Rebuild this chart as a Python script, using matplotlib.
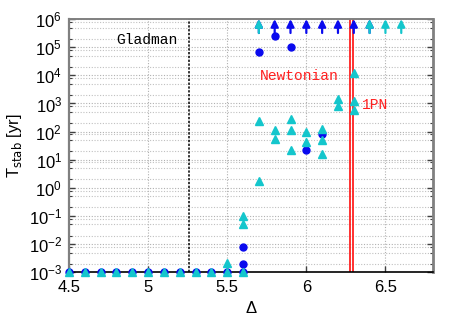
import matplotlib
matplotlib.use("Agg")
import matplotlib.pyplot as plt
from matplotlib.ticker import LogLocator, FixedLocator, FuncFormatter
import numpy as np

plt.rcParams['font.family'] = ['Liberation Sans', 'DejaVu Sans']

# ---- data ----
blue_x = [4.5, 4.6, 4.7, 4.8, 4.9, 5.0, 5.1, 5.2, 5.3, 5.4, 5.5, 5.6,
          5.6, 5.6, 5.7, 5.8, 5.9, 6.0, 6.1]
blue_y = [1e-3] * 12 + [2e-3, 8e-3, 6.5e4, 2.5e5, 1.05e5, 22, 81]
blue_arrow_x = [5.7, 5.8, 5.9, 6.0, 6.1, 6.2, 6.3, 6.4]

cyan_x = [4.5, 4.6, 4.7, 4.8, 4.9, 5.0, 5.1, 5.2, 5.3, 5.4, 5.5, 5.6,
          5.5, 5.6, 5.6, 5.7, 5.7, 5.8, 5.8, 5.9, 5.9, 5.9,
          6.0, 6.0, 6.1, 6.1, 6.1, 6.2, 6.2, 6.3, 6.3, 6.3]
cyan_y = [1e-3] * 12 + [2.1e-3, 0.05, 0.1, 1.8, 230, 110, 55, 270, 110, 23,
                        98, 41, 128, 49, 15.5, 1500, 810, 1.2e4, 1200, 575]
cyan_arrow_x = [5.7, 6.4, 6.5, 6.6]

arrow_top = 1e6
gladman_x = 5.26
newtonian_x = 6.278
pn_x = 6.292

xticks = [4.5, 5.0, 5.5, 6.0, 6.5]
yticks = [1e-3, 1e-2, 1e-1, 1e0, 1e1, 1e2, 1e3, 1e4, 1e5, 1e6]

blue = '#0a0aee'
cyan = '#14c6cc'
red = '#ff2020'

fig = plt.figure(figsize=(4.63, 3.24), dpi=100)
ax = fig.add_axes([0.149, 0.160, 0.786, 0.781])
ax.set_yscale('log')
ax.set_xlim(4.5, 6.8)
ax.set_ylim(1e-3, 1e6)

# grid
ax.xaxis.set_major_locator(FixedLocator(xticks))
ax.xaxis.set_major_formatter(FuncFormatter(lambda v, p: ('%g' % v)))
ax.yaxis.set_major_locator(FixedLocator(yticks))
ax.yaxis.set_minor_locator(LogLocator(base=10, subs=[2, 5, 8], numticks=20))
ax.grid(True, which='major', axis='both', color='#b0b0b0', linestyle=(0, (1, 1.5)), linewidth=0.8)
ax.grid(True, which='minor', axis='y', color='#c0c0c0', linestyle=(0, (1, 1.5)), linewidth=0.8)

# vertical lines
ax.axvline(gladman_x, color='black', linestyle=(0, (1.5, 1)), linewidth=1.1, zorder=2)
ax.axvline(newtonian_x, color=red, linewidth=1.3, zorder=2)
ax.axvline(pn_x, color=red, linewidth=1.3, zorder=2)

# points
ax.plot(blue_x, blue_y, 'o', color=blue, markersize=5, linestyle='none', clip_on=False, zorder=4)
ax.plot(cyan_x, cyan_y, '^', color=cyan, markersize=6, linestyle='none', clip_on=False, zorder=5)

# arrows (lower limits)
for xv in blue_arrow_x:
    ax.annotate('', xy=(xv, arrow_top), xytext=(0, -10), textcoords='offset points',
                arrowprops=dict(arrowstyle='-|>', color=blue, lw=1.6, mutation_scale=11,
                                shrinkA=0, shrinkB=0), annotation_clip=False, zorder=6)
for xv in cyan_arrow_x:
    ax.annotate('', xy=(xv, arrow_top), xytext=(0, -10), textcoords='offset points',
                arrowprops=dict(arrowstyle='-|>', color=cyan, lw=1.6, mutation_scale=11,
                                shrinkA=0, shrinkB=0), annotation_clip=False, zorder=7)

# text labels
ax.text(4.80, 10**5.25, 'Gladman', family='Liberation Mono', fontsize=10.5,
        color='black', va='center', ha='left')
ax.text(5.708, 10**3.97, 'Newtonian', family='Liberation Mono', fontsize=10.5,
        color=red, va='center', ha='left')
ax.text(6.349, 10**2.94, '1PN', family='Liberation Mono', fontsize=10.5,
        color=red, va='center', ha='left')

# spines & ticks
for s in ['left', 'top', 'right']:
    ax.spines[s].set_color('#808080')
ax.spines['left'].set_linewidth(1.6)
ax.spines['right'].set_linewidth(2.0)
ax.spines['top'].set_linewidth(1.4)
ax.spines['bottom'].set_color('black')
ax.spines['bottom'].set_linewidth(1.2)
ax.tick_params(which='both', direction='in', right=True, top=False, labelsize=12)
ax.tick_params(which='major', length=4, width=1.0, color='#404040')
ax.tick_params(which='minor', length=2, width=0.8, color='#404040')
ax.tick_params(axis='x', pad=6)
ax.tick_params(axis='y', pad=5)

ax.set_xlabel('Δ', fontsize=12, labelpad=4)
ax.set_ylabel(r'T$_{\mathrm{stab}}$ [yr]', fontsize=12, labelpad=3)

fig.savefig('out.png', dpi=100)
